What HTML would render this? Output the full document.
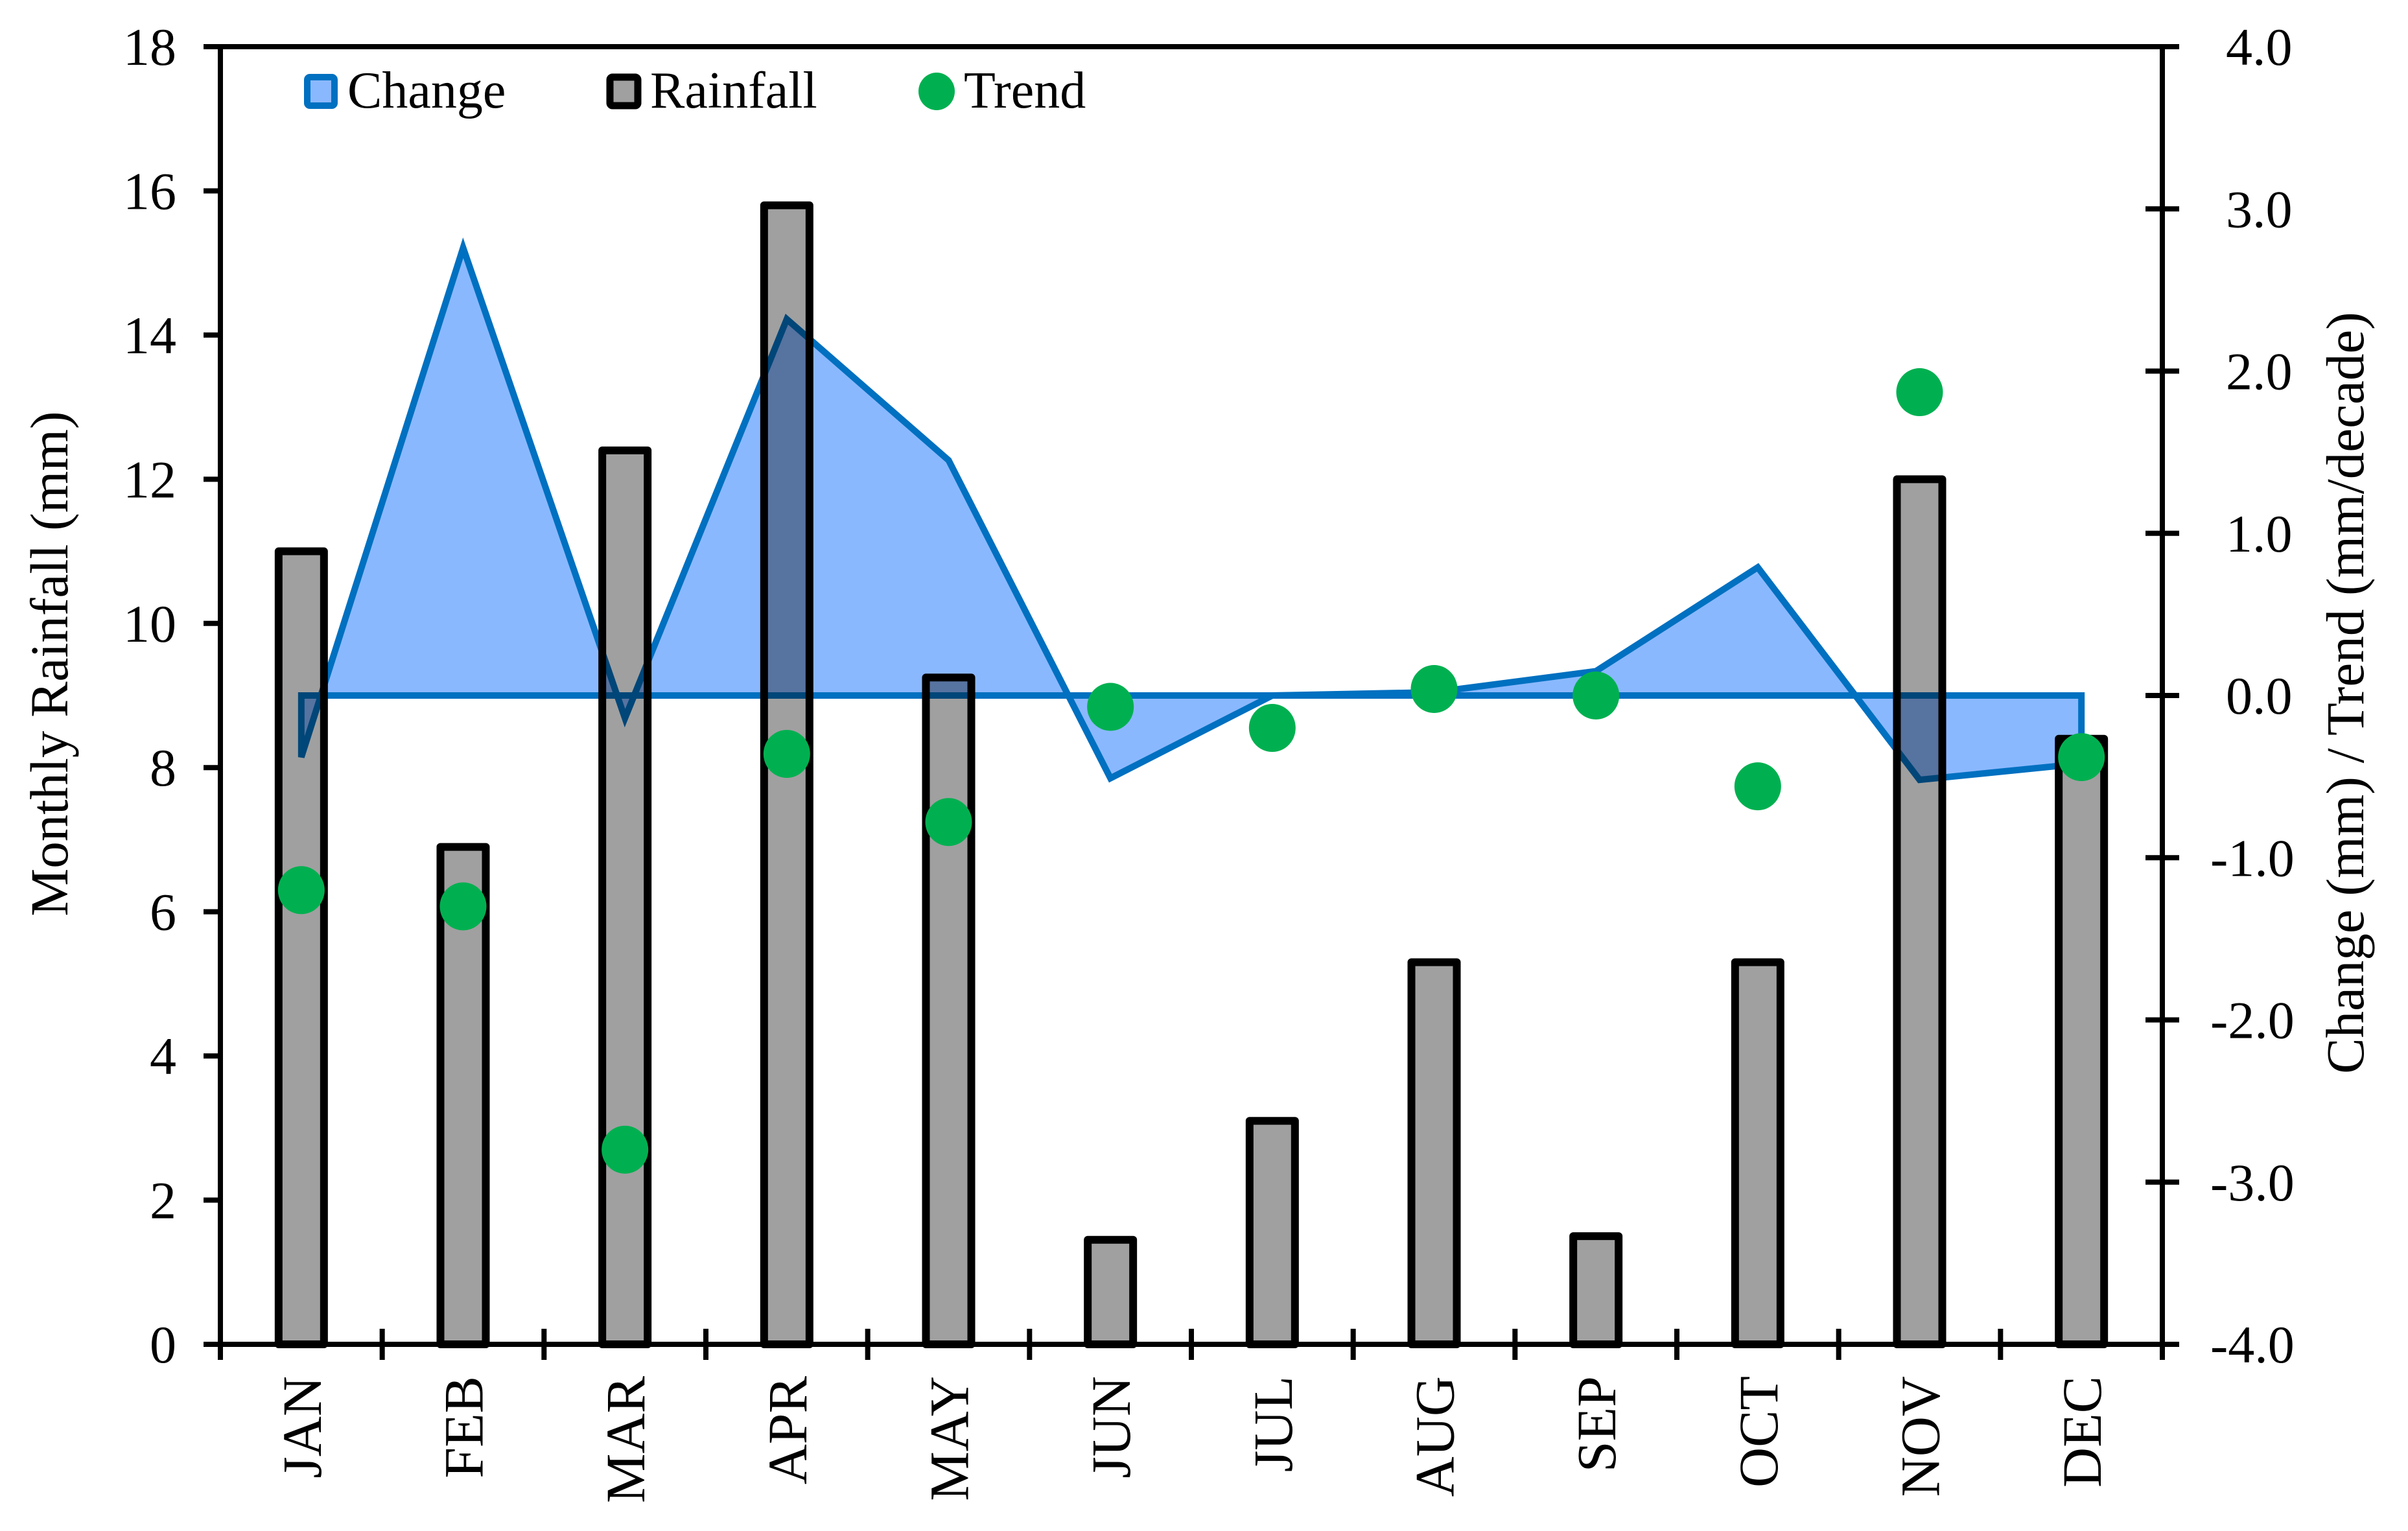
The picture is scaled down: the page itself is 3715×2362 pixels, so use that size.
<!DOCTYPE html>
<html><head><meta charset="utf-8"><style>
html,body{margin:0;padding:0;background:#fff;}
svg{display:block;font-family:"Liberation Serif","Times New Roman",serif;}
</style></head><body>
<svg id="chart" width="3715" height="2362" viewBox="0 0 3715 2362" xmlns="http://www.w3.org/2000/svg">
<g id="bars"></g>
<g id="area" style="mix-blend-mode:multiply"></g>
<g id="dots"></g>
<g id="axes"></g>
<g id="legend">
  <g>
    <rect x="474" y="119" width="42" height="44" rx="4" fill="#8ab8ff" stroke="#0070c0" stroke-width="10"/>
    <text x="536" y="166" font-size="80">Change</text>
  </g>
  <g>
    <rect x="941" y="119" width="43" height="44" rx="4" fill="#a0a0a0" stroke="#000" stroke-width="11"/>
    <text x="1003" y="166" font-size="80">Rainfall</text>
  </g>
  <g>
    <ellipse cx="1445" cy="141" rx="28" ry="29" fill="#00b050"/>
    <text x="1487" y="166" font-size="80">Trend</text>
  </g>
</g>
<text font-size="83" text-anchor="middle" transform="translate(104,1024) rotate(-90)">Monthly Rainfall (mm)</text>
<text font-size="83" text-anchor="middle" transform="translate(3646,1069) rotate(-90)">Change (mm) / Trend (mm/decade)</text>
</svg>
<script>
const months = ["JAN","FEB","MAR","APR","MAY","JUN","JUL","AUG","SEP","OCT","NOV","DEC"];
const rainfall = [11.0,6.9,12.4,15.8,9.25,1.45,3.1,5.3,1.5,5.3,12.0,8.4];
const change = [-0.38,2.76,-0.14,2.32,1.45,-0.51,0.0,0.02,0.15,0.79,-0.52,-0.42];
const trend = [-1.2,-1.3,-2.8,-0.36,-0.78,-0.07,-0.2,0.04,0.0,-0.56,1.87,-0.38];
const leftTicks = [0,2,4,6,8,10,12,14,16,18];
const rightTicks = ["-4.0","-3.0","-2.0","-1.0","0.0","1.0","2.0","3.0","4.0"];

const NS="http://www.w3.org/2000/svg";
const X0=340,X1=3336,YT=72,YB=2074;
const slot=(X1-X0)/months.length;
const xc=i=>X0+(i+0.5)*slot;
const yL=v=>YB-(v/18)*(YB-YT);
const yR=v=>YB-((v+4)/8)*(YB-YT);
function mk(tag,attrs,parent){const e=document.createElementNS(NS,tag);for(const k in attrs)e.setAttribute(k,attrs[k]);parent.appendChild(e);return e;}

const bars=document.getElementById('bars');
rainfall.forEach((v,i)=>{
  const w=70;
  const r=mk('rect',{x:xc(i)-w/2,y:yL(v),width:w,height:YB-yL(v),fill:'#a0a0a0',stroke:'#000','stroke-width':12,'stroke-linejoin':'round'},bars);
  
  
});

const area=document.getElementById('area');
let pts=[[xc(0),yR(0)]];
change.forEach((v,i)=>pts.push([xc(i),yR(v)]));
pts.push([xc(months.length-1),yR(0)]);
const poly=mk('polygon',{points:pts.map(p=>p.join(',')).join(' '),fill:'#8ab8ff',stroke:'#0070c0','stroke-width':10,'stroke-linejoin':'miter'},area);



const dots=document.getElementById('dots');
trend.forEach((v,i)=>{
  const c=mk('ellipse',{cx:xc(i),cy:yR(v),rx:36,ry:37,fill:'#00b050'},dots);
  
  
});

const axes=document.getElementById('axes');
const fr=mk('path',{d:`M${X0},${YT}H${X1}V${YB}H${X0}Z`,fill:'none',stroke:'#000','stroke-width':8},axes);


leftTicks.forEach(v=>{
  const y=yL(v);
  const t=mk('line',{x1:314,x2:X0,y1:y,y2:y,stroke:'#000','stroke-width':8},axes);
  
  
  const l=mk('text',{x:272,y:y+28,'font-size':82,'text-anchor':'end'},axes);
  l.textContent=v;
  
  
});
rightTicks.forEach(s=>{
  const y=yR(parseFloat(s));
  const t=mk('line',{x1:3310,x2:3362,y1:y,y2:y,stroke:'#000','stroke-width':8},axes);
  
  
  const l=mk('text',{x:s[0]==='-'?3410:3434,y:y+28,'font-size':82},axes);
  l.textContent=s;
  
  
});
for(let k=0;k<=months.length;k++){
  const x=X0+k*slot;
  const t=mk('line',{x1:x,x2:x,y1:2050,y2:2098,stroke:'#000','stroke-width':8},axes);
  
  
}
months.forEach((m,i)=>{
  const l=mk('text',{'font-size':86,'text-anchor':'end',transform:`translate(${xc(i)+30},2123) rotate(-90)`},axes);
  l.textContent=m;
  
  
});
</script>
</body></html>
